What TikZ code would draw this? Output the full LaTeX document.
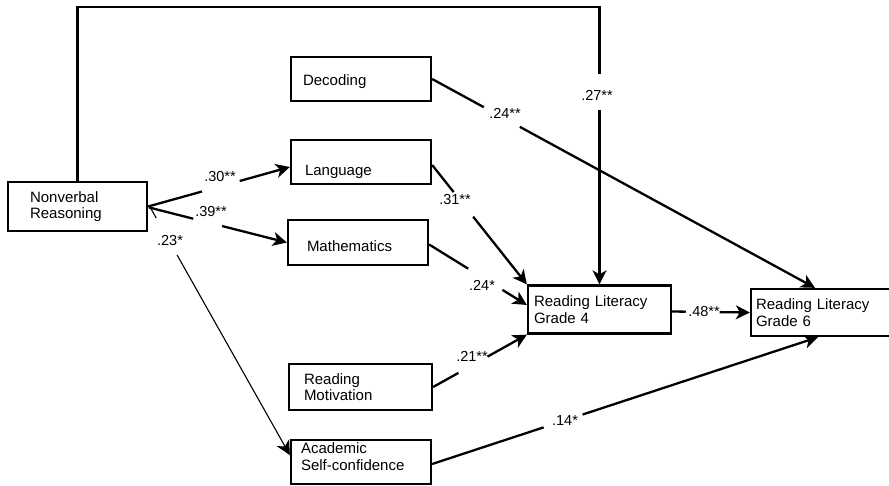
\documentclass[tikz,border=0pt]{standalone}
\usepackage{fontspec}
\setmainfont{Liberation Sans}
\usetikzlibrary{arrows.meta,calc}
\begin{document}
\begin{tikzpicture}[x=1pt,y=-1pt,
  box/.style={draw,line width=2.3pt,align=left,inner ysep=0pt,font=\fontsize{15}{16.5}\selectfont},
  conn/.style={line width=2.3pt},
  thinconn/.style={line width=1.1pt},
  arr/.style={-{Stealth[length=14pt,width=14pt,inset=4pt]}},
  lab/.style={font=\fontsize{14.5}{16}\selectfont,inner sep=0pt}]
\clip (0,0) rectangle (889,485);
% boxes
\node[box,minimum height=49pt,text width=95pt,inner xsep=22pt] (nr) at (77.5,206.5) {Nonverbal\\Reasoning};
\node[box,minimum height=44pt,text width=116pt,inner xsep=12pt,text height=17pt,text depth=3.2pt] (dec) at (361,79) {Decoding};
\node[box,minimum height=44pt,text width=112pt,inner xsep=14pt,text height=29pt,text depth=3pt] (lang) at (361,162) {Language};
\node[box,minimum height=45pt,text width=102pt,inner xsep=19pt,text height=18.5pt,text depth=0pt] (math) at (358,242.5) {Mathematics};
\node[box,minimum height=46pt,text width=113pt,inner xsep=15pt] (mot) at (360.5,387) {Reading\\Motivation};
\node[box,minimum height=44pt,text width=120pt,inner xsep=10pt,text height=11pt,text depth=28pt] (acad) at (361,462) {Academic\\Self-confidence};
\node[box,minimum height=48pt,text width=131pt,inner xsep=6pt] (rl4) at (599.5,309.5) {Reading Literacy\\Grade 4};
\node[box,minimum height=47pt,text width=140pt,inner xsep=5pt] (rl6) at (826,312.5) {Reading Literacy\\Grade 6};

% top path NR -> RL4
\coordinate (top) at (0,7);
\coordinate (g27a) at (599.5,74);
\coordinate (g27b) at (599.5,110);
\draw[conn] (nr.north) -- (nr.north |- top) -- (top -| g27a) -- (g27a);
\draw[conn,arr] (g27b) -- (rl4.north);
\node[lab] (l27) at (597,95) {.27**};

% Decoding -> RL6
\coordinate (t6a) at ([xshift=-11pt]rl6.north);
\path (dec.east) -- coordinate[pos=0.135] (g24a) coordinate[pos=0.229] (g24b) (t6a);
\draw[conn] (dec.east) -- (g24a);
\draw[conn,arr] (g24b) -- (t6a);
\node[lab] (l24a) at (505,113) {.24**};

% Language -> RL4
\coordinate (s31) at ([yshift=-3pt]lang.east);
\path (s31) -- coordinate[pos=0.227] (g31a) coordinate[pos=0.433] (g31b) (rl4.north west);
\draw[conn] (s31) -- (g31a);
\draw[conn,arr] (g31b) -- (rl4.north west);
\node[lab] (l31) at (455,200) {.31**};

% Mathematics -> RL4
\coordinate (s24) at ([yshift=-2pt]math.east);
\coordinate (t24) at ([yshift=4.5pt]rl4.west);
\path (s24) -- coordinate[pos=0.40] (g24c) coordinate[pos=0.75] (g24d) (t24);
\draw[conn] (s24) -- (g24c);
\draw[conn,arr] (g24d) -- (t24);
\node[lab] (l24b) at (482,285) {.24*};

% Motivation -> RL4
\path (mot.east) -- coordinate[pos=0.27] (g21a) coordinate[pos=0.58] (g21b) (rl4.south west);
\draw[conn] (mot.east) -- (g21a);
\draw[conn,arr] (g21b) -- (rl4.south west);
\node[lab] (l21) at (472,356) {.21**};

% Academic -> RL6
\coordinate (s14) at ([yshift=-2pt]acad.east);
\coordinate (t14) at ([xshift=-8pt]rl6.south);
\path (s14) -- coordinate[pos=0.289] (g14a) coordinate[pos=0.39] (g14b) (t14);
\draw[conn] (s14) -- (g14a);
\draw[conn,arr] (g14b) -- (t14);
\node[lab] (l14) at (565,421) {.14*};

% RL4 -> RL6
\coordinate (s48) at ([yshift=-2pt]rl4.east);
\coordinate (t48) at (rl6.west);
\path (s48) -- coordinate[pos=0.175] (g48a) coordinate[pos=0.61] (g48b) (t48);
\draw[conn] (s48) -- (g48a);
\draw[conn,arr] (g48b) -- (t48);
\node[lab] (l48) at (704,312) {.48**};

% NR -> Language
\coordinate (t30) at ([yshift=-5pt]lang.west);
\path (nr.east) -- coordinate[pos=0.38] (g30a) coordinate[pos=0.646] (g30b) (t30);
\draw[conn] (nr.east) -- (g30a);
\draw[conn,arr] (g30b) -- (t30);
\node[lab] (l30) at (220,177) {.30**};

% NR -> Mathematics
\coordinate (s39) at ([xshift=1pt,yshift=-1pt]nr.east);
\path (s39) -- coordinate[pos=0.32] (g39a) coordinate[pos=0.53] (g39b) (math.west);
\draw[conn] (s39) -- (g39a);
\draw[conn,arr] (g39b) -- (math.west);
\node[lab] (l39) at (211,212) {.39**};

% NR -> Academic (thin)
\coordinate (s23) at ([xshift=3pt,yshift=-2.5pt]nr.east);
\coordinate (t23) at ([yshift=7pt]acad.west);
\path (s23) -- coordinate[pos=0.037] (g23a) coordinate[pos=0.187] (g23b) (t23);
\draw[thinconn] (s23) -- (g23a);
\draw[thinconn,arr] (g23b) -- (t23);
\node[lab] (l23) at (170,241) {.23*};
\end{tikzpicture}
\end{document}
